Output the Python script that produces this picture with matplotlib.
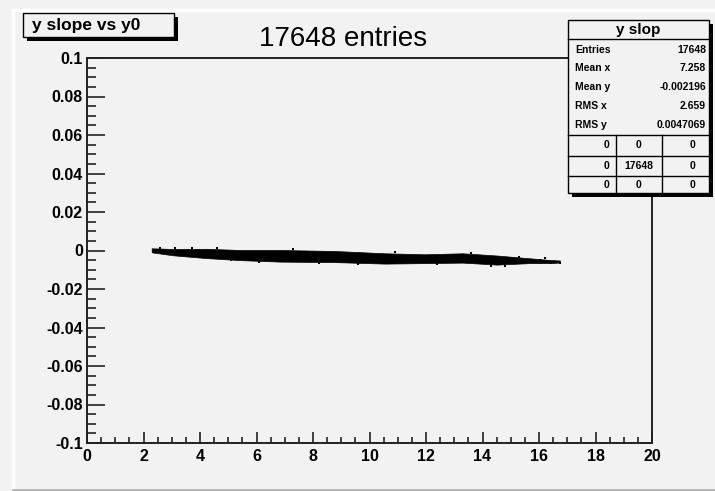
import matplotlib
matplotlib.use("Agg")
import matplotlib.pyplot as plt
from matplotlib.patches import Rectangle
from matplotlib.ticker import MultipleLocator

# band of the y-slope vs y0 scatter (upper / lower edge)
band_x = [2.29, 3.05, 4.24, 5.42, 6.83, 8.78, 10.55, 11.96, 13.3, 14.5, 15.68, 16.4, 16.74]
band_hi = [0.00114, 0.00078, 0.00088, 0.00026, 0.00026, -0.00026, -0.00145, -0.00197,
           -0.00145, -0.00260, -0.00405, -0.00494, -0.00519]
band_lo = [-0.00094, -0.00250, -0.00396, -0.00500, -0.00577, -0.00603, -0.00681, -0.00655,
           -0.00629, -0.00733, -0.00655, -0.00655, -0.00623]
# loose points at the edges of the band
stray_x = [2.6, 3.1, 3.7, 4.6, 5.1, 6.1, 7.3, 8.2, 9.6, 10.9, 12.4, 13.6, 14.3, 14.8,
           15.3, 16.04, 16.21, 16.42, 16.74]
stray_y = [0.0012, 0.0014, 0.0012, 0.0015, -0.0050, -0.0062, 0.0009, -0.0066, -0.0070,
           -0.0010, -0.0071, -0.0015, -0.0082, -0.0078, -0.0035, -0.0049, -0.0041,
           -0.0063, -0.0066]

xticks = [0, 2, 4, 6, 8, 10, 12, 14, 16, 18, 20]
yticks = [-0.1, -0.08, -0.06, -0.04, -0.02, 0, 0.02, 0.04, 0.06, 0.08, 0.1]
ylabels = ["-0.1", "-0.08", "-0.06", "-0.04", "-0.02", "0", "0.02", "0.04", "0.06", "0.08", "0.1"]

stat_names = ["Entries", "Mean x", "Mean y", "RMS x", "RMS y"]
stat_vals = ["17648", "7.258", "-0.002196", "2.659", "0.0047069"]
grid_vals = [["0", "0", "0"], ["0", "17648", "0"], ["0", "0", "0"]]

W, H = 715, 491
bg = "#f2f2f2"
fig = plt.figure(figsize=(W / 100, H / 100), dpi=100, facecolor=bg)

ax = fig.add_axes([87 / W, 1 - 443 / H, (652 - 87) / W, (443 - 58) / H], facecolor=bg)
ax.fill_between(band_x, band_lo, band_hi, color="black", lw=0.5, edgecolor="black")
ax.scatter(stray_x, stray_y, s=3, color="black", marker="s", lw=0)
ax.set_xlim(0, 20)
ax.set_ylim(-0.1, 0.1)
ax.set_xticks(xticks)
ax.set_xticklabels([str(t) for t in xticks])
ax.set_yticks(yticks)
ax.set_yticklabels(ylabels)
ax.xaxis.set_minor_locator(MultipleLocator(0.5))
ax.yaxis.set_minor_locator(MultipleLocator(0.005))
ax.tick_params(axis="both", which="both", direction="in", color="#222222", width=1.2)
ax.tick_params(axis="y", which="major", length=13, pad=3)
ax.tick_params(axis="y", which="minor", length=6.5)
ax.tick_params(axis="x", which="major", length=8, pad=4)
ax.tick_params(axis="x", which="minor", length=4.3)
for lab in ax.get_yticklabels():
    lab.set_fontfamily("Liberation Sans")
    lab.set_fontweight("bold")
    lab.set_fontsize(11.5)
for lab in ax.get_xticklabels():
    lab.set_fontfamily(["Liberation Sans Narrow", "Liberation Sans"])
    lab.set_fontweight("bold")
    lab.set_fontsize(11.5)
for s in ax.spines.values():
    s.set_linewidth(1.4)
    s.set_color("#222222")

# overlay in pixel coordinates for the canvas decorations
ov = fig.add_axes([0, 0, 1, 1], facecolor="none")
ov.set_xlim(0, W)
ov.set_ylim(H, 0)
ov.axis("off")

# canvas border
ov.plot([13, 13], [10, 489], color="white", lw=2.5)
ov.plot([13, W], [10, 10], color="white", lw=2.5)
ov.plot([13, W], [489.5, 489.5], color="#b5b5b5", lw=2)

# title box
ov.add_patch(Rectangle((27, 17), 151, 24, facecolor="black", edgecolor="none"))
ov.add_patch(Rectangle((23, 13), 151, 24, facecolor=bg, edgecolor="black", lw=1))
ov.text(32, 25, "y slope vs y0", fontfamily="Liberation Sans", fontweight="bold",
        fontsize=12.5, va="center", ha="left")

ov.text(343, 46, "17648 entries", fontfamily="Liberation Sans", fontsize=20,
        va="baseline", ha="center")

# stats box
bx0, bx1, by0, by1 = 568, 709, 20, 193
ov.add_patch(Rectangle((bx0 + 4, by0 + 4), bx1 - bx0, by1 - by0, facecolor="black", edgecolor="none"))
ov.add_patch(Rectangle((bx0, by0), bx1 - bx0, by1 - by0, facecolor=bg, edgecolor="black", lw=1))
ov.text((bx0 + bx1) / 2, 29.5, "y slop", fontfamily="Liberation Sans", fontweight="bold",
        fontsize=11, ha="center", va="center")
ov.plot([bx0, bx1], [39, 39], color="black", lw=1)
row_y = [50, 68, 87, 106, 125]
for name, val, yy in zip(stat_names, stat_vals, row_y):
    ov.text(575, yy, name, fontfamily="Liberation Sans", fontweight="heavy", fontsize=7.5,
            ha="left", va="center")
    ov.text(706, yy, val, fontfamily="Liberation Sans", fontweight="heavy", fontsize=7.5,
            ha="right", va="center")
for yy in [135, 156, 176]:
    ov.plot([bx0, bx1], [yy, yy], color="black", lw=1)
for xx in [616, 662]:
    ov.plot([xx, xx], [135, by1], color="black", lw=1)
grid_rows = [145.5, 166, 184.5]
grid_cols = [606, 639, 693]
for row, yy in zip(grid_vals, grid_rows):
    for v, xx in zip(row, grid_cols):
        ov.text(xx, yy, v, fontfamily="Liberation Sans", fontweight="heavy", fontsize=7.5,
                ha="center", va="center")

fig.savefig("out.png", dpi=100, facecolor=bg)
